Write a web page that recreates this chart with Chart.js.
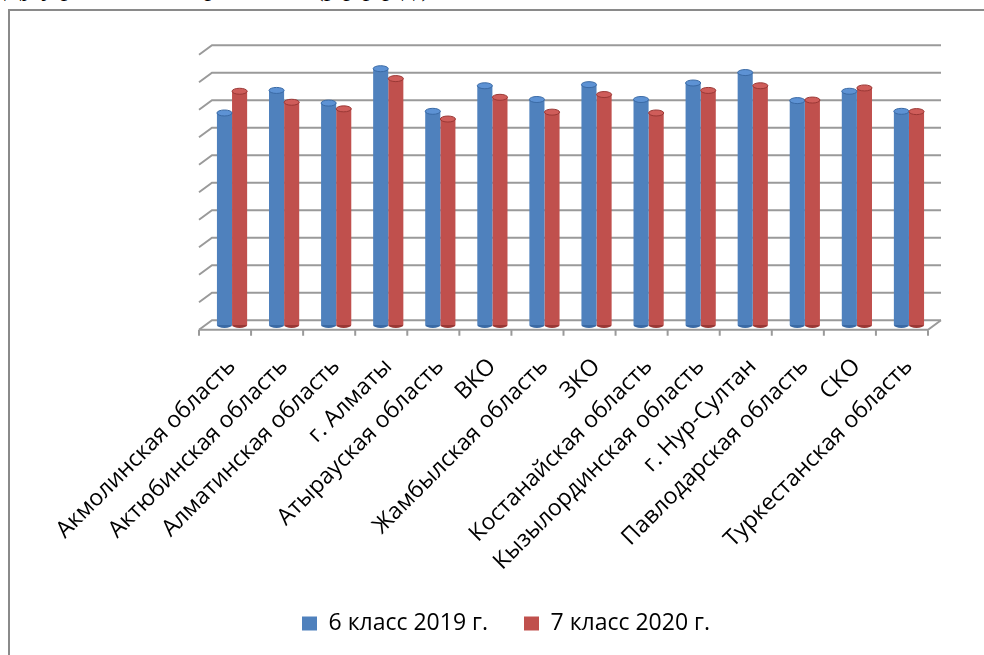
<!DOCTYPE html>
<html>
<head>
<meta charset="utf-8">
<script src="https://cdn.jsdelivr.net/npm/chart.js@4"></script>
<style>
  html, body { margin: 0; padding: 0; background: #fff; overflow: hidden; }
  #wrap { position: relative; width: 984px; height: 655px; overflow: hidden; }
  #frame {
    position: absolute; left: 8px; top: 9px; width: 1000px; height: 700px;
    border-left: 2px solid #8a8a8a; border-top: 2px solid #8a8a8a;
    pointer-events: none;
  }
  #topline {
    position: absolute; left: 4px; top: -27px; white-space: nowrap; line-height: 30px;
    font: 26px "Liberation Serif", "DejaVu Serif", serif; color: #000;
  }
  canvas { position: absolute; left: 0; top: 0; }
</style>
</head>
<body>
<div id="wrap">
  <div id="topline">Ду у  рез  ьтаты   по  регионам  (р  р   р  р   д )</div>
  <div id="frame"></div>
  <canvas id="grafico" width="984" height="655"></canvas>
</div>
<script>
// ===== DATA =====
const categories = [
  'Акмолинская область', 'Актюбинская область', 'Алматинская область', 'г. Алматы',
  'Атырауская область', 'ВКО', 'Жамбылская область', 'ЗКО', 'Костанайская область',
  'Кызылординская область', 'г. Нур-Султан', 'Павлодарская область', 'СКО',
  'Туркестанская область'
];
const seriesNames = ['6 класс 2019 г.', '7 класс 2020 г.'];
const values2019 = [77.1, 85.3, 80.7, 93.2, 77.7, 87.0, 82.0, 87.4, 82.0, 88.0, 91.8, 81.6, 85.0, 77.7];
const values2020 = [85.0, 81.0, 78.6, 89.6, 74.9, 82.8, 77.4, 83.8, 77.1, 85.3, 87.0, 81.8, 86.2, 77.6];
const yTicks = [0, 10, 20, 30, 40, 50, 60, 70, 80, 90, 100];
const seriesColors = ['#4f81bd', '#c0504d'];

// ===== 3D LOOK =====
const DX = 13, DY = 4.7; // depth offset of the back wall

function cylinder(ctx, bar, dark, mid, light) {
  const g = ctx.createLinearGradient(bar.x - bar.width / 2, 0, bar.x + bar.width / 2, 0);
  g.addColorStop(0, dark);
  g.addColorStop(0.35, light);
  g.addColorStop(0.7, mid);
  g.addColorStop(1, dark);
  return g;
}

function fillFor(i) {
  const c = i === 0
    ? ['#35639c', '#4f81bd', '#6196d8']
    : ['#8f302e', '#c0504d', '#d6625f'];
  return context => {
    const chart = context.chart;
    if (!chart.chartArea || context.type !== 'data') return c[1];
    const el = chart.getDatasetMeta(context.datasetIndex).data[context.dataIndex];
    if (!el || !el.width) return c[1];
    return cylinder(chart.ctx, el, c[0], c[1], c[2]);
  };
}

const wall = {
  id: 'wall',
  beforeDatasetsDraw(chart) {
    const { ctx, chartArea: a, scales: { y } } = chart;
    const L = a.left - 7, R = a.right - 7;
    ctx.save();
    ctx.strokeStyle = '#9a9a9a';
    ctx.lineWidth = 2;
    yTicks.forEach(v => {
      const yy = y.getPixelForValue(v);
      ctx.beginPath();
      ctx.moveTo(L, yy + DY);
      ctx.lineTo(L + DX, yy - DY);
      ctx.lineTo(R + DX, yy - DY);
      ctx.stroke();
    });
    const y0 = y.getPixelForValue(0);
    ctx.beginPath();
    ctx.moveTo(L, y0 + DY);
    ctx.lineTo(R, y0 + DY);
    ctx.lineTo(R + DX, y0 - DY);
    for (let i = 0; i <= categories.length; i++) {
      const xx = L + (R - L) * i / categories.length;
      ctx.moveTo(xx, y0 + DY);
      ctx.lineTo(xx, y0 + DY + 6);
    }
    ctx.stroke();
    ctx.restore();
  },
  afterDatasetsDraw(chart) {
    const ctx = chart.ctx;
    const caps = [['#5d92d4', '#3a6aa5'], ['#cf5d5a', '#9a3835']];
    chart.data.datasets.forEach((ds, i) => {
      chart.getDatasetMeta(i).data.forEach(bar => {
        const rx = bar.width / 2;
        ctx.save();
        // rounded bottom
        ctx.beginPath();
        ctx.ellipse(bar.x, bar.base, rx, 3, 0, 0, Math.PI);
        ctx.fillStyle = caps[i][1];
        ctx.fill();
        // top cap
        ctx.beginPath();
        ctx.ellipse(bar.x, bar.y, rx, 3, 0, 0, Math.PI * 2);
        ctx.fillStyle = caps[i][0];
        ctx.fill();
        ctx.lineWidth = 1;
        ctx.strokeStyle = caps[i][1];
        ctx.stroke();
        ctx.restore();
      });
    });
  }
};

// ===== CHART =====
let chart = new Chart(document.getElementById('grafico'), {
  type: 'bar',
  data: {
    labels: categories,
    datasets: [
      { label: seriesNames[0], data: values2019, backgroundColor: fillFor(0), borderWidth: 0 },
      { label: seriesNames[1], data: values2020, backgroundColor: fillFor(1), borderWidth: 0 }
    ]
  },
  options: {
    responsive: false,
    animation: false,
    events: [],
    layout: { padding: { left: 28, right: 0, top: 50, bottom: 10 } },
    datasets: { bar: { categoryPercentage: 0.58, barPercentage: 1 } },
    scales: {
      y: {
        min: 0, max: 100,
        grid: { display: false },
        border: { display: false },
        ticks: { display: false },
        afterFit(scale) { scale.width = 178; }
      },
      y2: {
        position: 'right',
        min: 0, max: 100,
        grid: { display: false },
        border: { display: false },
        ticks: { display: false },
        afterFit(scale) { scale.width = 49; }
      },
      x: {
        grid: { display: false },
        border: { display: false },
        ticks: {
          maxRotation: 45,
          minRotation: 45,
          autoSkip: false,
          padding: 20,
          color: '#000',
          font: { family: '"Open Sans"', size: 23 }
        },
        afterFit(scale) { scale.height = 251; }
      }
    },
    plugins: {
      tooltip: { enabled: false },
      legend: {
        position: 'bottom',
        labels: {
          boxWidth: 15,
          boxHeight: 14,
          padding: 36,
          color: '#000',
          font: { family: '"Open Sans"', size: 23 },
          generateLabels(c) {
            return Chart.defaults.plugins.legend.labels.generateLabels(c).map((item, i) => {
              item.fillStyle = seriesColors[i];
              item.strokeStyle = seriesColors[i];
              item.lineWidth = 0;
              return item;
            });
          }
        }
      }
    }
  },
  plugins: [wall]
});
</script>
</body>
</html>
